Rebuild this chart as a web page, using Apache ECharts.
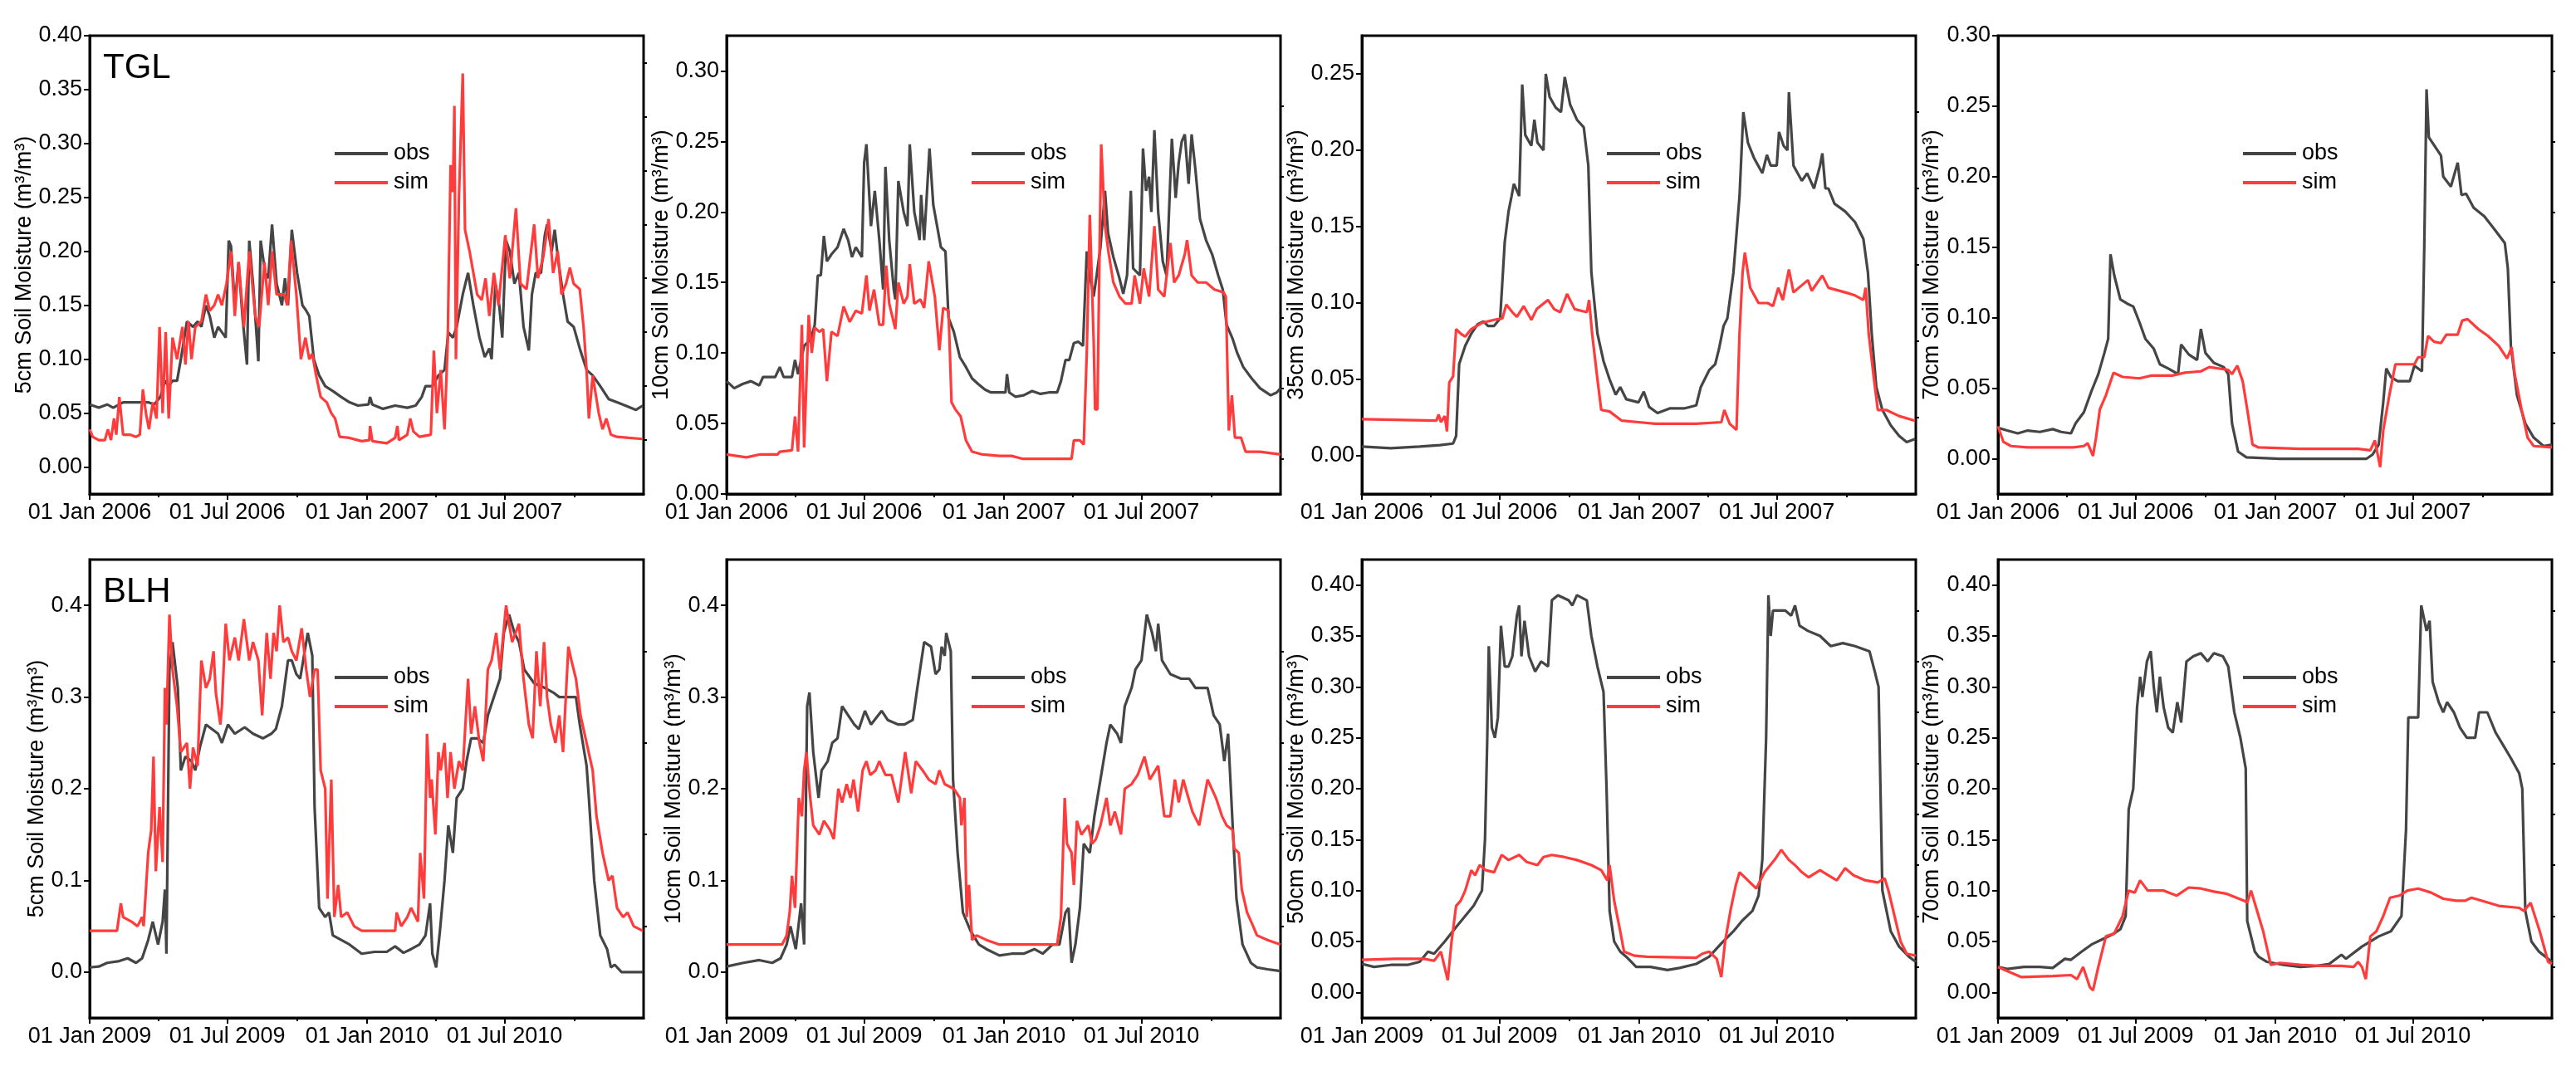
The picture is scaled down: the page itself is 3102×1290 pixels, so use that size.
<!DOCTYPE html>
<html>
<head>
<meta charset="utf-8">
<title>Soil moisture obs vs sim</title>
<script src="https://cdn.jsdelivr.net/npm/echarts@6.0.0/dist/echarts.min.js"></script>
<style>
    html, body { margin: 0; padding: 0; background: #fff; }
    #chart { width: 3102px; height: 1290px; }
</style>
</head>
<body>
<div id="chart"></div>
<script>
// ---- data: [day offset from start date, value] ----
var tglStart = '2006-01-01';
var blhStart = '2009-01-01';

var tglObs5 = [[0,.058],[12,.055],[23,.058],[31,.055],[44,.06],[61,.06],[77,.06],[85,.058],[93,.065],[99,.08],[104,.075],[109,.08],[115,.08],[120,.10],[128,.135],[136,.13],[142,.135],[147,.13],[153,.15],[158,.14],[164,.12],[169,.13],[174,.125],[179,.12],[183,.21],[186,.205],[191,.15],[196,.19],[201,.14],[207,.095],[210,.21],[215,.17],[222,.098],[225,.21],[231,.18],[235,.175],[240,.225],[246,.17],[253,.15],[257,.175],[261,.15],[266,.22],[273,.18],[280,.15],[285,.145],[289,.14],[295,.10],[302,.085],[310,.075],[321,.07],[331,.065],[342,.06],[353,.057],[367,.058],[369,.065],[372,.058],[386,.054],[402,.057],[418,.055],[429,.057],[437,.065],[442,.075],[451,.075],[459,.085],[467,.09],[472,.125],[478,.12],[483,.13],[491,.16],[498,.18],[505,.15],[513,.12],[520,.102],[526,.11],[529,.10],[534,.17],[539,.15],[543,.12],[548,.21],[553,.20],[559,.17],[565,.18],[571,.13],[578,.108],[582,.16],[587,.18],[594,.18],[599,.215],[602,.225],[608,.20],[612,.22],[617,.19],[623,.16],[629,.135],[637,.13],[645,.11],[654,.09],[662,.085],[672,.075],[683,.063],[694,.06],[705,.057],[719,.053],[728,.057]];
var tglSim5 = [[0,.035],[4,.028],[12,.025],[20,.025],[24,.035],[28,.025],[32,.045],[35,.03],[39,.065],[44,.03],[53,.03],[61,.028],[66,.03],[70,.072],[74,.05],[78,.035],[83,.06],[88,.045],[92,.13],[96,.05],[100,.125],[104,.045],[109,.12],[115,.10],[122,.13],[126,.095],[130,.135],[134,.10],[139,.13],[147,.135],[153,.16],[158,.145],[164,.15],[169,.16],[174,.15],[180,.17],[186,.20],[191,.14],[196,.19],[203,.13],[210,.20],[218,.14],[223,.13],[230,.19],[235,.15],[240,.20],[246,.16],[256,.16],[260,.15],[265,.21],[272,.16],[278,.10],[284,.12],[289,.10],[293,.105],[298,.085],[304,.065],[312,.06],[318,.05],[323,.045],[329,.028],[342,.027],[358,.024],[368,.025],[369,.038],[372,.024],[391,.022],[402,.027],[405,.038],[407,.025],[418,.03],[422,.045],[426,.033],[434,.028],[449,.03],[453,.108],[457,.05],[462,.09],[467,.035],[471,.11],[475,.28],[478,.255],[480,.335],[482,.10],[486,.25],[491,.365],[494,.22],[500,.20],[505,.18],[510,.16],[516,.155],[521,.175],[526,.14],[532,.18],[538,.15],[547,.215],[553,.175],[561,.24],[567,.17],[575,.165],[585,.225],[590,.175],[597,.195],[604,.23],[610,.18],[616,.20],[621,.16],[627,.17],[632,.185],[637,.17],[645,.165],[650,.13],[654,.09],[657,.045],[662,.085],[670,.05],[675,.035],[680,.045],[686,.03],[694,.028],[710,.027],[728,.026]];

var tglObs10 = [[0,.08],[10,.075],[21,.078],[32,.08],[43,.077],[48,.083],[64,.083],[70,.09],[75,.083],[86,.083],[90,.095],[94,.085],[102,.105],[111,.11],[116,.12],[120,.155],[124,.155],[128,.183],[132,.165],[138,.17],[146,.175],[154,.188],[160,.18],[165,.168],[170,.175],[178,.168],[181,.235],[184,.248],[190,.19],[195,.215],[201,.18],[206,.145],[209,.232],[214,.18],[220,.145],[222,.138],[226,.222],[233,.20],[238,.19],[241,.248],[247,.20],[254,.18],[256,.212],[260,.18],[267,.245],[272,.205],[277,.19],[282,.175],[288,.172],[292,.125],[299,.115],[307,.097],[315,.09],[323,.082],[331,.078],[340,.074],[348,.072],[359,.072],[367,.072],[369,.085],[372,.072],[380,.069],[391,.07],[402,.073],[413,.071],[424,.072],[435,.072],[440,.08],[446,.095],[451,.095],[457,.107],[463,.108],[469,.105],[474,.172],[478,.155],[483,.14],[487,.155],[492,.175],[498,.215],[502,.185],[509,.168],[517,.153],[522,.142],[527,.155],[532,.215],[535,.16],[544,.155],[548,.245],[552,.215],[556,.225],[559,.20],[563,.258],[568,.20],[574,.165],[579,.155],[586,.252],[591,.21],[595,.235],[599,.25],[603,.255],[608,.22],[612,.255],[617,.23],[623,.195],[631,.18],[639,.17],[647,.155],[653,.145],[658,.12],[666,.11],[672,.10],[680,.09],[691,.082],[702,.075],[716,.07],[724,.072],[729,.075]];
var tglSim10 = [[0,.028],[26,.026],[43,.028],[67,.028],[70,.03],[86,.031],[90,.055],[94,.03],[99,.12],[102,.033],[108,.127],[112,.10],[116,.118],[122,.115],[127,.117],[132,.08],[138,.115],[146,.112],[154,.133],[162,.122],[170,.13],[178,.128],[184,.155],[188,.13],[194,.145],[201,.12],[206,.12],[210,.162],[214,.135],[222,.117],[226,.15],[233,.135],[238,.14],[241,.163],[247,.135],[255,.138],[260,.132],[266,.165],[274,.14],[280,.102],[285,.132],[292,.13],[296,.065],[301,.06],[308,.055],[315,.038],[323,.03],[337,.028],[359,.027],[375,.027],[389,.025],[454,.025],[457,.038],[465,.038],[470,.035],[474,.10],[478,.198],[483,.11],[485,.06],[488,.06],[491,.18],[493,.248],[498,.19],[503,.17],[509,.15],[517,.14],[525,.135],[533,.135],[537,.155],[544,.135],[549,.16],[556,.14],[563,.19],[568,.145],[576,.14],[584,.178],[589,.15],[595,.155],[603,.17],[606,.18],[612,.155],[620,.15],[631,.15],[642,.145],[654,.143],[657,.14],[661,.045],[665,.07],[669,.04],[677,.04],[683,.03],[702,.03],[729,.028]];

var tglObs35 = [[0,.006],[38,.005],[76,.006],[103,.007],[120,.008],[124,.013],[128,.06],[136,.072],[144,.08],[152,.086],[160,.088],[166,.085],[174,.085],[182,.09],[188,.14],[193,.16],[197,.17],[200,.178],[207,.17],[211,.243],[215,.21],[223,.203],[227,.22],[231,.205],[239,.20],[242,.25],[247,.235],[255,.228],[262,.225],[267,.248],[274,.23],[283,.22],[292,.215],[298,.19],[302,.12],[310,.08],[318,.062],[326,.05],[334,.04],[340,.045],[348,.037],[364,.035],[371,.042],[378,.032],[389,.028],[405,.031],[424,.031],[440,.033],[446,.045],[457,.056],[465,.06],[470,.07],[476,.085],[481,.09],[489,.12],[497,.17],[502,.225],[508,.205],[516,.195],[527,.185],[533,.197],[538,.19],[546,.19],[549,.212],[555,.203],[560,.20],[562,.238],[568,.19],[579,.18],[586,.185],[595,.175],[603,.19],[606,.198],[610,.175],[614,.175],[622,.165],[636,.16],[649,.153],[660,.142],[666,.12],[671,.08],[677,.045],[685,.03],[696,.02],[707,.013],[717,.009],[728,.011]];
var tglSim35 = [[0,.024],[98,.023],[101,.027],[104,.022],[109,.026],[112,.016],[115,.048],[120,.052],[124,.083],[130,.08],[136,.078],[144,.083],[158,.087],[174,.089],[185,.09],[190,.099],[198,.094],[204,.091],[213,.098],[223,.089],[230,.096],[245,.102],[253,.096],[261,.094],[270,.106],[280,.096],[296,.094],[299,.102],[303,.08],[310,.05],[315,.03],[326,.029],[342,.023],[364,.022],[386,.021],[440,.021],[473,.022],[477,.03],[484,.021],[493,.017],[497,.08],[501,.12],[504,.133],[511,.11],[522,.10],[534,.10],[541,.098],[548,.11],[554,.102],[562,.122],[568,.107],[587,.115],[592,.108],[606,.118],[614,.11],[636,.107],[649,.105],[660,.102],[663,.11],[667,.08],[674,.05],[679,.03],[690,.03],[707,.026],[728,.023]];

var tglObs70 = [[0,.022],[12,.02],[26,.018],[39,.02],[55,.019],[72,.021],[83,.019],[96,.018],[102,.025],[113,.033],[123,.048],[132,.06],[140,.075],[145,.085],[148,.145],[153,.13],[161,.113],[170,.11],[178,.108],[186,.097],[194,.085],[205,.078],[213,.067],[224,.064],[237,.06],[241,.081],[251,.074],[262,.07],[267,.092],[273,.075],[284,.068],[297,.065],[303,.06],[308,.025],[316,.005],[327,.001],[371,0],[485,0],[493,.003],[501,.01],[507,.04],[511,.064],[517,.058],[526,.055],[542,.055],[548,.066],[558,.062],[561,.15],[564,.262],[567,.228],[583,.215],[586,.20],[596,.193],[605,.21],[610,.187],[616,.188],[626,.178],[640,.172],[653,.163],[667,.153],[671,.135],[675,.08],[683,.045],[694,.025],[705,.015],[718,.009],[729,.01]];
var tglSim70 = [[0,.023],[7,.012],[17,.009],[39,.008],[99,.008],[113,.009],[118,.011],[125,.002],[129,.015],[134,.035],[142,.045],[152,.061],[164,.058],[186,.057],[202,.059],[229,.059],[246,.061],[267,.062],[278,.065],[303,.063],[308,.06],[315,.066],[322,.055],[328,.035],[335,.01],[343,.008],[398,.007],[474,.007],[490,.006],[496,.013],[503,-.006],[507,.02],[515,.045],[523,.067],[548,.067],[553,.072],[561,.072],[566,.087],[574,.083],[583,.082],[590,.088],[605,.088],[611,.098],[618,.099],[632,.092],[645,.087],[659,.08],[670,.071],[676,.079],[680,.06],[689,.035],[697,.015],[705,.009],[729,.008]];

var blhObs5 = [[0,.005],[12,.006],[23,.01],[39,.012],[50,.015],[61,.01],[69,.015],[77,.035],[83,.055],[90,.03],[96,.055],[99,.09],[101,.02],[105,.33],[109,.36],[116,.31],[120,.22],[126,.235],[134,.23],[139,.22],[145,.245],[153,.27],[161,.265],[169,.26],[174,.25],[182,.27],[191,.26],[204,.267],[215,.26],[228,.255],[239,.26],[245,.265],[253,.29],[261,.34],[266,.34],[272,.325],[277,.32],[283,.35],[287,.37],[293,.345],[296,.18],[302,.07],[310,.06],[315,.065],[320,.04],[331,.035],[342,.03],[358,.02],[375,.022],[391,.022],[402,.028],[413,.021],[423,.025],[434,.03],[442,.04],[448,.075],[451,.02],[456,.005],[461,.045],[467,.10],[472,.16],[478,.13],[483,.19],[491,.20],[496,.23],[502,.255],[510,.255],[518,.25],[524,.28],[532,.30],[540,.32],[545,.37],[552,.39],[559,.37],[565,.36],[572,.33],[585,.315],[599,.31],[610,.305],[618,.30],[640,.30],[645,.27],[654,.225],[657,.19],[664,.10],[672,.04],[681,.025],[686,.005],[691,.008],[700,0],[728,0]];
var blhSim5 = [[0,.045],[36,.045],[41,.075],[44,.06],[55,.055],[63,.05],[69,.06],[71,.05],[77,.13],[81,.155],[84,.235],[87,.11],[92,.18],[96,.12],[99,.31],[101,.27],[105,.39],[109,.33],[115,.29],[120,.24],[128,.25],[132,.20],[136,.245],[142,.225],[147,.34],[153,.31],[158,.32],[163,.35],[166,.305],[172,.27],[174,.29],[179,.38],[184,.34],[191,.365],[196,.34],[203,.385],[210,.34],[215,.36],[222,.34],[227,.28],[233,.37],[238,.32],[242,.37],[246,.35],[250,.40],[255,.36],[261,.365],[266,.35],[272,.34],[279,.375],[285,.33],[290,.30],[296,.33],[300,.33],[304,.22],[310,.20],[313,.08],[318,.21],[322,.06],[327,.095],[331,.06],[339,.065],[348,.05],[358,.045],[402,.045],[404,.065],[410,.05],[418,.06],[423,.07],[432,.055],[435,.13],[440,.08],[444,.26],[448,.19],[450,.21],[455,.15],[459,.24],[462,.22],[467,.25],[471,.19],[475,.24],[480,.20],[486,.23],[491,.22],[498,.32],[502,.26],[507,.29],[513,.25],[518,.23],[524,.33],[529,.34],[535,.37],[540,.33],[548,.40],[556,.36],[565,.38],[571,.32],[578,.27],[583,.255],[588,.35],[593,.29],[598,.36],[602,.30],[607,.27],[613,.25],[618,.28],[623,.24],[630,.355],[634,.34],[640,.32],[646,.28],[654,.25],[662,.22],[667,.17],[675,.13],[683,.10],[688,.105],[694,.07],[702,.06],[708,.065],[716,.05],[728,.045]];

var blhObs10 = [[0,.006],[22,.01],[43,.013],[60,.01],[71,.015],[79,.03],[84,.05],[91,.025],[98,.075],[102,.03],[106,.29],[109,.305],[114,.24],[121,.19],[125,.22],[133,.23],[139,.25],[146,.255],[152,.29],[160,.28],[168,.27],[174,.265],[182,.285],[190,.27],[204,.285],[212,.275],[226,.27],[234,.27],[245,.275],[251,.31],[260,.36],[269,.355],[275,.325],[280,.33],[283,.355],[287,.345],[289,.37],[295,.35],[298,.21],[304,.13],[311,.065],[321,.045],[332,.03],[342,.025],[359,.018],[375,.02],[391,.02],[405,.025],[416,.02],[429,.03],[438,.03],[446,.065],[450,.07],[454,.01],[459,.03],[465,.07],[470,.14],[478,.13],[484,.17],[492,.21],[500,.25],[505,.27],[514,.26],[519,.25],[524,.29],[533,.31],[538,.33],[546,.34],[553,.39],[560,.37],[565,.35],[568,.38],[573,.34],[584,.325],[598,.32],[609,.32],[617,.31],[633,.31],[641,.28],[649,.27],[655,.23],[660,.26],[666,.16],[671,.08],[679,.03],[690,.01],[698,.005],[712,.003],[729,.001]];
var blhSim10 = [[0,.03],[73,.03],[79,.04],[83,.065],[86,.105],[90,.07],[95,.19],[99,.17],[102,.22],[105,.24],[110,.19],[114,.16],[122,.15],[128,.165],[136,.155],[141,.145],[147,.20],[152,.185],[158,.205],[163,.19],[167,.21],[173,.175],[179,.22],[184,.23],[189,.215],[196,.22],[201,.23],[209,.215],[217,.215],[226,.185],[235,.24],[243,.195],[249,.23],[258,.22],[266,.21],[275,.205],[280,.22],[287,.205],[299,.20],[307,.19],[309,.16],[313,.19],[316,.06],[319,.095],[323,.035],[329,.04],[342,.035],[359,.03],[435,.03],[440,.06],[445,.19],[448,.14],[454,.13],[457,.095],[461,.165],[467,.15],[476,.16],[481,.14],[486,.145],[492,.16],[500,.19],[505,.16],[511,.175],[519,.15],[524,.20],[533,.205],[541,.215],[550,.235],[557,.21],[568,.225],[576,.17],[584,.17],[590,.21],[595,.185],[601,.21],[606,.195],[613,.175],[622,.16],[633,.21],[644,.19],[652,.17],[658,.16],[666,.155],[668,.135],[674,.13],[678,.09],[685,.065],[693,.05],[698,.04],[712,.035],[729,.03]];

var blhObs50 = [[0,.028],[16,.025],[38,.027],[60,.027],[76,.03],[87,.04],[95,.038],[109,.05],[125,.065],[136,.075],[147,.085],[158,.10],[162,.15],[165,.25],[167,.34],[171,.26],[175,.25],[179,.27],[183,.36],[188,.32],[193,.32],[198,.33],[204,.37],[207,.38],[210,.33],[214,.365],[220,.33],[228,.315],[236,.325],[245,.32],[250,.385],[258,.39],[272,.385],[277,.38],[283,.39],[296,.385],[302,.35],[310,.32],[318,.295],[322,.20],[326,.08],[332,.05],[340,.04],[348,.035],[361,.025],[380,.025],[402,.022],[418,.024],[440,.028],[457,.035],[473,.048],[489,.06],[500,.07],[514,.08],[522,.095],[527,.13],[532,.25],[535,.39],[538,.35],[541,.375],[557,.375],[565,.37],[570,.38],[576,.36],[587,.355],[603,.35],[617,.34],[633,.343],[649,.34],[668,.335],[675,.315],[680,.30],[685,.10],[696,.06],[707,.045],[720,.035],[729,.03]];
var blhSim50 = [[0,.032],[43,.033],[82,.033],[95,.031],[104,.04],[113,.012],[118,.05],[124,.085],[130,.09],[136,.10],[144,.12],[149,.115],[155,.125],[163,.12],[174,.118],[184,.135],[193,.13],[207,.135],[217,.128],[231,.125],[239,.133],[250,.135],[266,.133],[283,.13],[302,.125],[315,.12],[323,.11],[326,.125],[332,.09],[340,.06],[345,.04],[359,.036],[375,.035],[440,.034],[448,.038],[457,.04],[467,.033],[473,.015],[478,.05],[485,.08],[492,.105],[497,.118],[508,.11],[519,.102],[530,.118],[543,.13],[552,.14],[562,.13],[570,.125],[579,.118],[588,.113],[603,.12],[614,.115],[625,.11],[636,.122],[647,.115],[663,.11],[679,.108],[688,.112],[693,.10],[701,.075],[709,.05],[717,.038],[729,.036]];

var blhObs70 = [[0,.025],[12,.023],[34,.025],[55,.025],[72,.024],[88,.033],[96,.032],[110,.04],[123,.047],[137,.052],[151,.057],[161,.062],[168,.075],[172,.18],[178,.20],[183,.28],[187,.31],[190,.29],[196,.325],[201,.335],[205,.30],[209,.275],[213,.31],[218,.28],[224,.26],[230,.255],[236,.285],[241,.265],[248,.325],[257,.33],[267,.333],[276,.325],[284,.333],[296,.33],[303,.32],[311,.275],[319,.25],[326,.22],[328,.07],[338,.04],[343,.035],[354,.03],[376,.027],[398,.025],[420,.026],[436,.028],[452,.037],[458,.033],[479,.045],[501,.055],[517,.06],[531,.075],[537,.16],[540,.27],[553,.27],[557,.38],[564,.355],[568,.365],[572,.305],[580,.285],[586,.275],[591,.285],[600,.275],[608,.26],[617,.25],[628,.25],[633,.275],[644,.275],[655,.255],[667,.24],[675,.23],[686,.215],[690,.20],[694,.08],[702,.05],[712,.04],[729,.03]];
var blhSim70 = [[0,.025],[15,.02],[31,.015],[72,.016],[96,.017],[104,.013],[112,.025],[121,.005],[125,.002],[132,.025],[142,.055],[153,.058],[164,.075],[172,.10],[180,.098],[187,.11],[197,.10],[218,.10],[235,.095],[251,.103],[267,.102],[284,.099],[300,.097],[324,.09],[328,.088],[333,.10],[341,.08],[349,.06],[359,.027],[371,.029],[398,.027],[424,.026],[452,.026],[468,.025],[474,.03],[479,.025],[484,.013],[490,.055],[498,.06],[507,.075],[516,.093],[528,.095],[539,.10],[553,.102],[570,.098],[586,.092],[603,.09],[615,.09],[623,.093],[637,.09],[659,.085],[686,.083],[692,.08],[701,.088],[713,.06],[724,.03],[729,.028]];

// x axis: labelled dates (Jan/Jul) and minor quarter ticks (Apr/Oct)
var tglLabelDates = ['2006-01-01', '2006-07-01', '2007-01-01', '2007-07-01'];
var tglMinorDates = ['2006-04-01', '2006-10-01', '2007-04-01', '2007-10-01'];
var blhLabelDates = ['2009-01-01', '2009-07-01', '2010-01-01', '2010-07-01'];
var blhMinorDates = ['2009-04-01', '2009-10-01', '2010-04-01', '2010-10-01'];

// y axis ticks
var ticks040 = [0, 0.05, 0.10, 0.15, 0.20, 0.25, 0.30, 0.35, 0.40];
var minor040 = [0.025, 0.075, 0.125, 0.175, 0.225, 0.275, 0.325, 0.375];
var ticks030 = [0, 0.05, 0.10, 0.15, 0.20, 0.25, 0.30];
var minor030 = [0.025, 0.075, 0.125, 0.175, 0.225, 0.275];
var ticks025 = [0, 0.05, 0.10, 0.15, 0.20, 0.25];
var minor025 = [0.025, 0.075, 0.125, 0.175, 0.225];
var ticks04 = [0, 0.1, 0.2, 0.3, 0.4];
var minor04 = [0.05, 0.15, 0.25, 0.35];

var siteNames = ['TGL', 'BLH'];

var DAY = 86400000;
var MONTHS = ['Jan', 'Feb', 'Mar', 'Apr', 'May', 'Jun', 'Jul', 'Aug', 'Sep', 'Oct', 'Nov', 'Dec'];
var FONT = 'Arial, "Liberation Sans", sans-serif';
var OBS_COLOR = '#454545';
var SIM_COLOR = '#ff3b3b';
var LEFTS = [108, 875, 1640, 2406];
var TOPS = [43, 674];
var W = 667, H = 552;

var panels = [
    {obs: tglObs5, sim: tglSim5, depth: '5cm', min: -0.025, max: 0.40, ticks: ticks040, minor: minor040, digits: 2, gap: 53},
    {obs: tglObs10, sim: tglSim10, depth: '10cm', min: 0, max: 0.325, ticks: ticks030, minor: minor030, digits: 2, gap: 65},
    {obs: tglObs35, sim: tglSim35, depth: '35cm', min: -0.025, max: 0.275, ticks: ticks025, minor: minor025, digits: 2, gap: 65},
    {obs: tglObs70, sim: tglSim70, depth: '70cm', min: -0.025, max: 0.30, ticks: ticks030, minor: minor030, digits: 2, gap: 66},
    {obs: blhObs5, sim: blhSim5, depth: '5cm', min: -0.05, max: 0.45, ticks: ticks04, minor: minor04, digits: 1, gap: 48},
    {obs: blhObs10, sim: blhSim10, depth: '10cm', min: -0.05, max: 0.45, ticks: ticks04, minor: minor04, digits: 1, gap: 50},
    {obs: blhObs50, sim: blhSim50, depth: '50cm', min: -0.025, max: 0.425, ticks: ticks040, minor: minor040, digits: 2, gap: 65},
    {obs: blhObs70, sim: blhSim70, depth: '70cm', min: -0.025, max: 0.425, ticks: ticks040, minor: minor040, digits: 2, gap: 66}
];

function toPoints(start, pairs) {
    return pairs.map(function (p) { return [start + p[0] * DAY, p[1]]; });
}

function fmtDate(v) {
    var d = new Date(v);
    return ('0' + d.getUTCDate()).slice(-2) + ' ' + MONTHS[d.getUTCMonth()] + ' ' + d.getUTCFullYear();
}

function parseDates(list) {
    return list.map(function (s) { return Date.parse(s); });
}

var grid = [], xAxis = [], yAxis = [], series = [], legend = [], graphic = [];

panels.forEach(function (p, i) {
    var col = i % 4, row = Math.floor(i / 4);
    var left = LEFTS[col], top = TOPS[row];
    var start = Date.parse(row ? blhStart : tglStart);
    var labelDates = parseDates(row ? blhLabelDates : tglLabelDates);
    var minorDates = parseDates(row ? blhMinorDates : tglMinorDates);
    var xMin = start, xMax = start + 729 * DAY;

    grid.push({
        left: left, top: top, width: W, height: H,
        show: true, borderColor: '#000', borderWidth: 3
    });

    // dates as plain ms numbers on value axes; second one carries the minor ticks
    xAxis.push({
        type: 'value', gridIndex: i, min: xMin, max: xMax,
        axisLine: {onZero: false, lineStyle: {color: '#000', width: 3}},
        axisTick: {show: true, customValues: labelDates, length: 7, lineStyle: {color: '#000', width: 2}},
        axisLabel: {
            customValues: labelDates, formatter: fmtDate,
            fontSize: 27, color: '#000', fontFamily: FONT, margin: 9
        },
        splitLine: {show: false}
    });
    xAxis.push({
        type: 'value', gridIndex: i, min: xMin, max: xMax, position: 'bottom',
        axisLine: {show: false, onZero: false},
        axisTick: {show: true, customValues: minorDates, length: 4, lineStyle: {color: '#000', width: 2}},
        axisLabel: {show: false},
        splitLine: {show: false}
    });

    yAxis.push({
        type: 'value', gridIndex: i, min: p.min, max: p.max,
        name: p.depth + ' Soil Moisture (m³/m³)',
        nameLocation: 'middle', nameGap: p.gap,
        nameTextStyle: {fontSize: 27, color: '#000', fontFamily: FONT},
        axisLine: {show: true, onZero: false, lineStyle: {color: '#000', width: 3}},
        axisTick: {show: true, customValues: p.ticks, length: 7, lineStyle: {color: '#000', width: 2}},
        axisLabel: {
            customValues: p.ticks,
            formatter: function (v) { return v.toFixed(p.digits); },
            fontSize: 27, color: '#000', fontFamily: FONT, margin: 9
        },
        splitLine: {show: false}
    });
    yAxis.push({
        type: 'value', gridIndex: i, min: p.min, max: p.max,
        axisLine: {show: false, onZero: false},
        axisTick: {show: true, customValues: p.minor, length: 4, lineStyle: {color: '#000', width: 2}},
        axisLabel: {show: false},
        splitLine: {show: false}
    });

    series.push({
        type: 'line', name: 'obs', xAxisIndex: 2 * i, yAxisIndex: 2 * i,
        data: toPoints(start, p.obs), symbol: 'none', showSymbol: false,
        lineStyle: {color: OBS_COLOR, width: 3.2}, itemStyle: {color: OBS_COLOR}
    });
    series.push({
        type: 'line', name: 'sim', xAxisIndex: 2 * i, yAxisIndex: 2 * i,
        data: toPoints(start, p.sim), symbol: 'none', showSymbol: false,
        lineStyle: {color: SIM_COLOR, width: 3.2}, itemStyle: {color: SIM_COLOR}
    });

    legend.push({
        left: left + 295, top: top + 127, orient: 'vertical',
        icon: 'rect', itemWidth: 64, itemHeight: 4, itemGap: 5, padding: 0,
        selectedMode: false, data: ['obs', 'sim'],
        textStyle: {fontSize: 27, lineHeight: 30, color: '#000', fontFamily: FONT, padding: [0, 0, 0, 2]}
    });

    if (col === 0) {
        graphic.push({
            type: 'text', x: left + 16, y: top + 39,
            style: {text: siteNames[row], font: '42px ' + FONT, fill: '#000', textAlign: 'left', textVerticalAlign: 'middle'}
        });
    }
});

var chart = echarts.init(document.getElementById('chart'));
chart.setOption({
    animation: false,
    backgroundColor: '#fff',
    grid: grid,
    xAxis: xAxis,
    yAxis: yAxis,
    legend: legend,
    series: series,
    graphic: graphic
});
</script>
</body>
</html>
